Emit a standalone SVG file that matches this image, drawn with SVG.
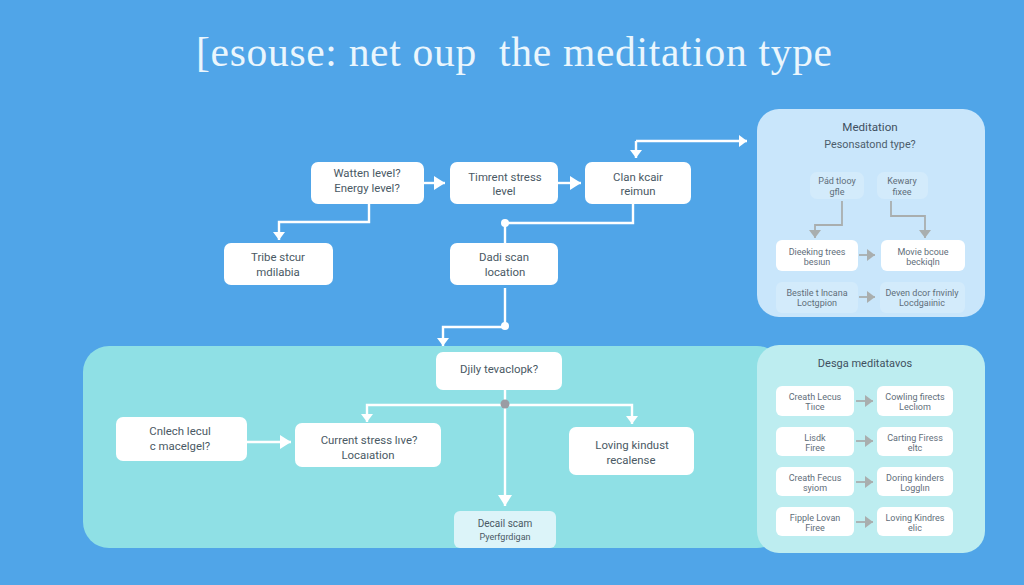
<svg xmlns="http://www.w3.org/2000/svg" width="1024" height="585" viewBox="0 0 1024 585">
<defs>
<marker id="big" markerUnits="userSpaceOnUse" markerWidth="12" markerHeight="14" refX="11" refY="7" orient="auto"><path d="M0 0L11 7L0 14Z" fill="#fff"/></marker>
<marker id="small" markerUnits="userSpaceOnUse" markerWidth="9" markerHeight="12" refX="8" refY="6" orient="auto"><path d="M0 0L8 6L0 12Z" fill="#fff"/></marker>
<marker id="gray" markerUnits="userSpaceOnUse" markerWidth="9" markerHeight="12" refX="8" refY="6" orient="auto"><path d="M0 0L8 6L0 12Z" fill="#a9aeae"/></marker>
</defs>
<style>
text{font-family:Roboto,"Liberation Sans",Arial,sans-serif;fill:#4a5964;text-anchor:middle}
.n{fill:#fff}
.l{font-size:11.4px}
.s{font-size:9px;fill:#5f6e7a}
.m{fill:#d3ebfb}
.w{fill:none;stroke:#fff;stroke-width:2.4}
.g{fill:none;stroke:#a9aeae;stroke-width:1.8}
</style>
<rect width="1024" height="585" fill="#50a5e8"/>
<text x="514" y="66" xml:space="preserve" style="font-family:'Liberation Serif',serif;font-size:41.5px;fill:#eaf6fd;white-space:pre" textLength="636" lengthAdjust="spacing">[esouse: net oup  the meditation type</text>

<g id="panel-bottom"><rect x="83" y="346" width="700" height="202" rx="26" fill="#8fe0e5"/></g>
<g id="panel-meditation"><rect x="757" y="109" width="228" height="208" rx="22" fill="#c9e6fb"/>
<text x="870" y="131" style="font-size:11.6px;fill:#3f5060">Meditation</text>
<text x="870" y="148" style="font-size:10.8px;fill:#4c5d6b">Pesonsatond type?</text></g>
<g id="panel-design"><rect x="757" y="345" width="228" height="208" rx="22" fill="#bdedf0"/>
<text x="865" y="367" style="font-size:11px;fill:#3f5060">Desga meditatavos</text></g>

<g id="connectors">
<path class="w" d="M424 183H445" marker-end="url(#big)"/>
<path class="w" d="M558 183H581" marker-end="url(#big)"/>
<path class="w" d="M369 204V222H279V240" marker-end="url(#small)"/>
<path class="w" d="M636 141H747" marker-end="url(#small)"/>
<path class="w" d="M636 141V158" marker-end="url(#small)"/>
<path class="w" d="M633 204V223H505V243"/>
<circle cx="505" cy="223" r="4" fill="#fff"/>
<path class="w" d="M505 288V327H443V346" marker-end="url(#small)"/>
<circle cx="505" cy="326" r="4" fill="#fff"/>
<path class="w" d="M505 390V506" marker-end="url(#big)"/>
<path class="w" d="M505 405H367V422" marker-end="url(#small)"/>
<path class="w" d="M505 405H632V424" marker-end="url(#small)"/>
<circle cx="505" cy="404" r="4.5" fill="#9a9ca3"/>
<path class="w" d="M247 442H291" marker-end="url(#big)"/>
<path class="g" d="M842 201V225H815V238" marker-end="url(#gray)"/>
<path class="g" d="M891 201V216H925V238" marker-end="url(#gray)"/>
<path class="g" d="M859 255H875" marker-end="url(#gray)"/>
<path class="g" d="M859 297H875" marker-end="url(#gray)"/>
<path class="g" d="M856 401H873" marker-end="url(#gray)"/>
<path class="g" d="M856 441H873" marker-end="url(#gray)"/>
<path class="g" d="M856 482H873" marker-end="url(#gray)"/>
<path class="g" d="M856 522H873" marker-end="url(#gray)"/>
</g>

<g id="node-watten"><rect class="n" x="311" y="162" width="113" height="42" rx="7"/><text class="l" x="367" y="177">Watten level?</text><text class="l" x="367" y="192">Energy level?</text></g>
<g id="node-timrent"><rect class="n" x="450" y="162" width="108" height="42" rx="7"/><text class="l" x="505" y="181">Timrent stress</text><text class="l" x="504" y="195">level</text></g>
<g id="node-clan"><rect class="n" x="585" y="162" width="106" height="42" rx="7"/><text class="l" x="638" y="181">Clan kcair</text><text class="l" x="638" y="195">reimun</text></g>
<g id="node-tribe"><rect class="n" x="224" y="243" width="109" height="42" rx="7"/><text class="l" x="278" y="261">Tribe stcur</text><text class="l" x="278" y="276">mdilabia</text></g>
<g id="node-dadi"><rect class="n" x="450" y="243" width="108" height="42" rx="7"/><text class="l" x="504" y="261">Dadi scan</text><text class="l" x="505" y="276">location</text></g>
<g id="node-djily"><rect class="n" x="436" y="352" width="126" height="38" rx="7"/><text class="l" x="499" y="373">Djily tevaclopk?</text></g>
<g id="node-cnlech"><rect class="n" x="116" y="417" width="131" height="44" rx="7"/><text class="l" x="180" y="435">Cnlech lecul</text><text class="l" x="180" y="450">c macelgel?</text></g>
<g id="node-current"><rect class="n" x="295" y="423" width="146" height="44" rx="7"/><text class="l" x="369" y="444">Current stress lıve?</text><text class="l" x="368" y="459">Locaıation</text></g>
<g id="node-loving"><rect class="n" x="569" y="427" width="125" height="48" rx="7"/><text class="l" x="632" y="449">Loving kindust</text><text class="l" x="631" y="464">recalense</text></g>
<g id="node-decal"><rect x="454" y="511" width="102" height="37" rx="6" fill="#dcf4f9"/><text x="505" y="527" style="font-size:10px">Decail scam</text><text x="505" y="540" style="font-size:9px">Pyerfgrdigan</text></g>

<g id="node-pad"><rect class="m" x="810" y="172" width="54" height="27" rx="7"/><text class="s" x="837" y="184">Pád tlooy</text><text class="s" x="837" y="195">gfle</text></g>
<g id="node-kewary"><rect class="m" x="877" y="172" width="51" height="27" rx="7"/><text class="s" x="902" y="184">Kewary</text><text class="s" x="902" y="195">fixee</text></g>
<g id="node-dieeking"><rect class="n" x="776" y="240" width="82" height="31" rx="6"/><text class="s" x="817" y="255">Dieeking trees</text><text class="s" x="817" y="265">besıun</text></g>
<g id="node-movie"><rect class="n" x="881" y="240" width="84" height="31" rx="6"/><text class="s" x="923" y="255">Movie bcoue</text><text class="s" x="923" y="265">beckiqln</text></g>
<g id="node-bestle"><rect class="m" x="776" y="282" width="82" height="31" rx="6"/><text class="s" x="817" y="296">Bestile t lncana</text><text class="s" x="817" y="306">Loctgpion</text></g>
<g id="node-deven"><rect class="m" x="880" y="282" width="85" height="31" rx="6"/><text class="s" x="922" y="296">Deven dcor fnvinly</text><text class="s" x="922" y="306">Locdgaıinic</text></g>

<g id="node-creath1"><rect class="n" x="776" y="386" width="78" height="30" rx="6"/><text class="s" x="815" y="400">Creath Lecus</text><text class="s" x="815" y="410">Tiıce</text></g>
<g id="node-cowling"><rect class="n" x="877" y="386" width="76" height="30" rx="6"/><text class="s" x="915" y="400">Cowling firects</text><text class="s" x="915" y="410">Leclıom</text></g>
<g id="node-lisk"><rect class="n" x="776" y="427" width="78" height="29" rx="6"/><text class="s" x="815" y="441">Lisdk</text><text class="s" x="815" y="451">Firee</text></g>
<g id="node-carting"><rect class="n" x="877" y="427" width="76" height="29" rx="6"/><text class="s" x="915" y="441">Carting Firess</text><text class="s" x="915" y="451">eltc</text></g>
<g id="node-creath2"><rect class="n" x="776" y="467" width="78" height="29" rx="6"/><text class="s" x="815" y="481">Creath Fecus</text><text class="s" x="815" y="491">syiom</text></g>
<g id="node-doring"><rect class="n" x="877" y="467" width="76" height="29" rx="6"/><text class="s" x="915" y="481">Doring kinders</text><text class="s" x="915" y="491">Logglın</text></g>
<g id="node-fipple"><rect class="n" x="776" y="507" width="78" height="29" rx="6"/><text class="s" x="815" y="521">Fipple Lovan</text><text class="s" x="815" y="531">Firee</text></g>
<g id="node-loving2"><rect class="n" x="877" y="507" width="76" height="29" rx="6"/><text class="s" x="915" y="521">Loving Kindres</text><text class="s" x="915" y="531">elic</text></g>
</svg>
